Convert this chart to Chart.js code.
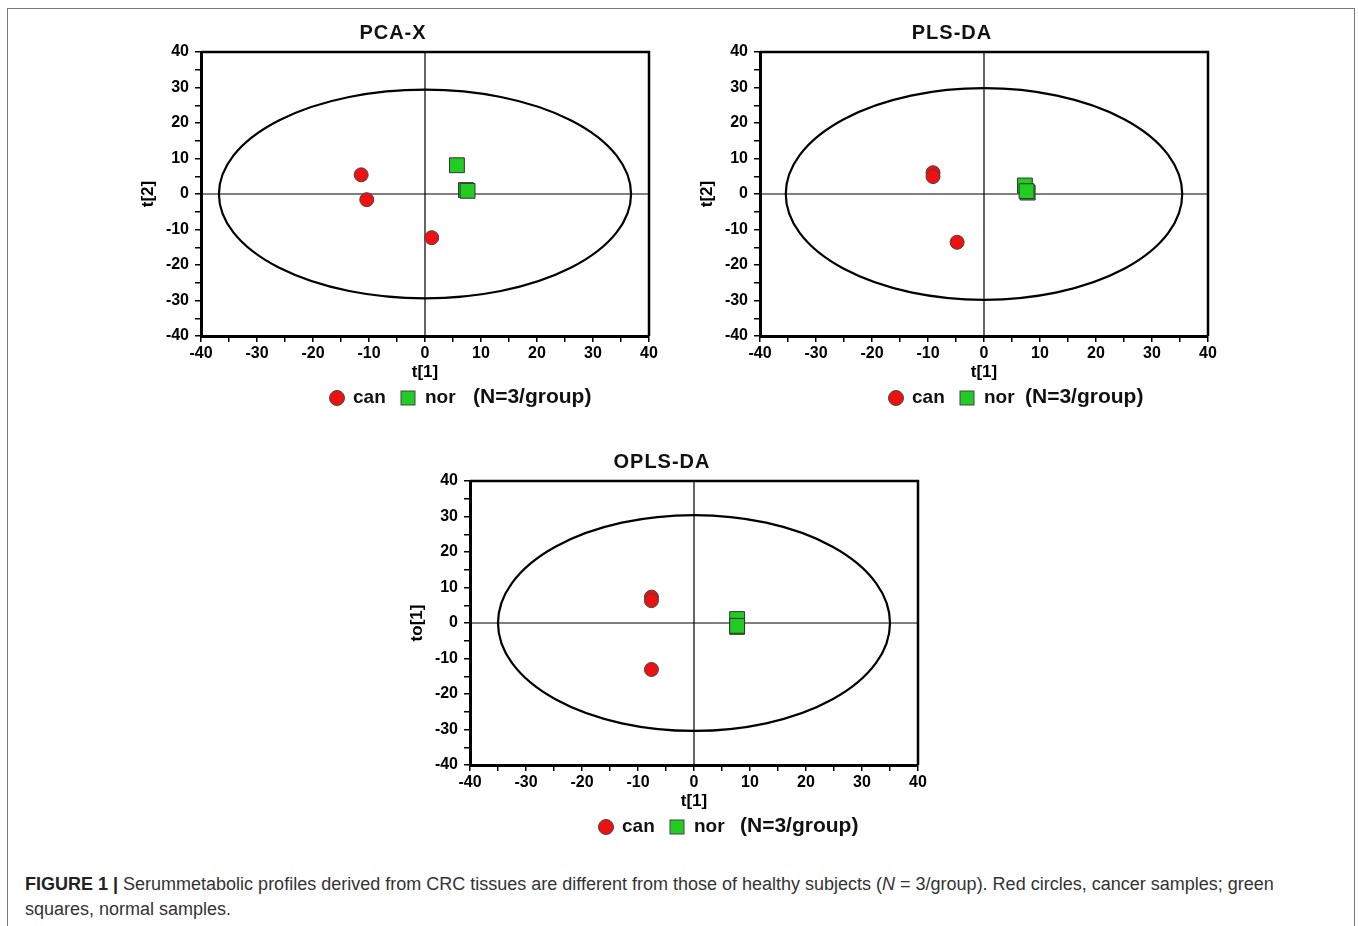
<!DOCTYPE html>
<html>
<head>
<meta charset="utf-8">
<script src="https://cdn.jsdelivr.net/npm/chart.js@4.4.1/dist/chart.umd.min.js"></script>
<style>
  html, body { margin: 0; padding: 0; background: #fff; }
  body { width: 1358px; height: 926px; position: relative; overflow: hidden; }
  #frame { position: absolute; left: 7px; top: 8px; width: 1348px; height: 940px; border: 1px solid #777; box-sizing: border-box; }
  .box { position: absolute; width: 540px; height: 400px; }
  #caption { position: absolute; left: 25px; top: 872px; width: 1290px; font-family: "Liberation Sans Narrow", "Arial Narrow", "Liberation Sans", Arial, sans-serif; font-size: 18px; line-height: 25px; color: #333; }
  #caption b { color: #222; }
</style>
</head>
<body>
<div id="frame"></div>
<div class="box" style="left:130px; top:15px;"><canvas id="pca"></canvas></div>
<div class="box" style="left:689px; top:15px;"><canvas id="pls"></canvas></div>
<div class="box" style="left:399px; top:444px;"><canvas id="opls"></canvas></div>
<div id="caption"><b>FIGURE 1 |</b> Serummetabolic profiles derived from CRC tissues are different from those of healthy subjects (<i>N</i> = 3/group). Red circles, cancer samples; green squares, normal samples.</div>

<script>
// valores
const groupLabels = ['can', 'nor'];
const groupNote = '(N=3/group)';

const pcaCanX = [-11.4, -10.4, 1.2];
const pcaCanY = [5.4, -1.6, -12.3];
const pcaNorX = [5.7, 7.3, 7.6];
const pcaNorY = [8.1, 1.1, 0.9];
const pcaEllipse = [36.8, 29.4];

const plsCanX = [-9.1, -9.1, -4.8];
const plsCanY = [6.0, 4.9, -13.6];
const plsNorX = [7.3, 7.8, 7.6];
const plsNorY = [2.4, 0.4, 0.8];
const plsEllipse = [35.4, 29.8];

const oplsCanX = [-7.6, -7.6, -7.6];
const oplsCanY = [7.3, 6.3, -13.1];
const oplsNorX = [7.7, 7.7, 7.7];
const oplsNorY = [1.1, -1.1, -0.8];
const oplsEllipse = [35.0, 30.4];

const axisMin = -40, axisMax = 40;

const FONT = '"Liberation Sans", Arial, sans-serif';

function toPoints(xs, ys) {
    return xs.map((x, i) => ({ x: x, y: ys[i] }));
}

// plugin: elipse, líneas en cero, marco, título y leyenda
const decorPlugin = {
    id: 'decor',
    beforeDatasetsDraw(chart) {
        const { ctx, chartArea: a, scales: { x, y } } = chart;
        const cfg = chart.options.plugins.decor;
        const x0 = x.getPixelForValue(0), y0 = y.getPixelForValue(0);
        ctx.save();
        ctx.strokeStyle = '#000';
        ctx.lineWidth = 1.2;
        ctx.beginPath();
        ctx.moveTo(a.left, y0); ctx.lineTo(a.right, y0);
        ctx.moveTo(x0, a.top); ctx.lineTo(x0, a.bottom);
        ctx.stroke();
        const rx = Math.abs(x.getPixelForValue(cfg.ellipse[0]) - x0);
        const ry = Math.abs(y.getPixelForValue(cfg.ellipse[1]) - y0);
        ctx.lineWidth = 2.2;
        ctx.beginPath();
        ctx.ellipse(x0, y0, rx, ry, 0, 0, Math.PI * 2);
        ctx.stroke();
        // marco superior y derecho
        ctx.lineWidth = 2.5;
        ctx.beginPath();
        ctx.moveTo(a.left, a.top); ctx.lineTo(a.right, a.top); ctx.lineTo(a.right, a.bottom);
        ctx.stroke();
        ctx.restore();
    },
    afterDraw(chart) {
        const { ctx, chartArea: a } = chart;
        const cfg = chart.options.plugins.decor;
        ctx.save();
        ctx.fillStyle = '#111';
        ctx.textBaseline = 'middle';
        ctx.textAlign = 'center';
        ctx.font = 'bold 20px ' + FONT;
        ctx.letterSpacing = '1px';
        ctx.fillText(cfg.title, a.left + 192, 18);
        ctx.letterSpacing = '0px';
        // leyenda
        const ly = a.bottom + 62;
        const lx = a.left;
        ctx.fillStyle = '#ee1111';
        ctx.strokeStyle = '#444';
        ctx.lineWidth = 1;
        ctx.beginPath();
        ctx.arc(lx + 136, ly, 7.5, 0, Math.PI * 2);
        ctx.fill(); ctx.stroke();
        ctx.fillStyle = '#22cc22';
        ctx.fillRect(lx + 200, ly - 7, 14, 14);
        ctx.strokeRect(lx + 200, ly - 7, 14, 14);
        ctx.fillStyle = '#111';
        ctx.textAlign = 'left';
        ctx.font = 'bold 19px ' + FONT;
        ctx.fillText(groupLabels[0], lx + 152, ly);
        ctx.fillText(groupLabels[1], lx + 224, ly);
        ctx.font = 'bold 21px ' + FONT;
        ctx.fillText(groupNote, lx + cfg.noteX, ly - 1);
        ctx.restore();
    }
};

function makeChart(id, title, yTitle, canX, canY, norX, norY, ellipse, noteX) {
    const tickCb = v => (v % 10 === 0 ? v : '');
    const grid = { drawOnChartArea: false, drawTicks: true, tickLength: 6, color: '#000', lineWidth: 1.5 };
    const tickFont = { family: FONT, size: 16, weight: 'bold' };
    const titleFont = { family: FONT, size: 17, weight: 'bold' };
    return new Chart(document.getElementById(id), {
        type: 'scatter',
        data: {
            datasets: [{
                label: groupLabels[0],
                data: toPoints(canX, canY),
                pointStyle: 'circle',
                pointRadius: 7,
                pointHoverRadius: 7,
                backgroundColor: '#ee1111',
                borderColor: '#444',
                borderWidth: 1
            }, {
                label: groupLabels[1],
                data: toPoints(norX, norY),
                pointStyle: 'rect',
                pointRadius: 10.5,
                pointHoverRadius: 10.5,
                backgroundColor: '#22cc22',
                borderColor: '#333',
                borderWidth: 1
            }]
        },
        options: {
            responsive: false,
            animation: false,
            layout: { padding: { left: 8, top: 37, right: 21, bottom: 32 } },
            plugins: {
                legend: { display: false },
                tooltip: { enabled: false },
                decor: { title: title, ellipse: ellipse, noteX: noteX }
            },
            scales: {
                x: {
                    type: 'linear', min: axisMin, max: axisMax,
                    afterFit: s => { s.height = 47; },
                    border: { display: true, color: '#000', width: 3 },
                    grid: grid,
                    ticks: { stepSize: 5, autoSkip: false, maxRotation: 0, padding: 2, color: '#000', font: tickFont, callback: tickCb },
                    title: { display: true, text: 't[1]', color: '#000', font: titleFont, padding: 0 }
                },
                y: {
                    type: 'linear', min: axisMin, max: axisMax,
                    afterFit: s => { s.width = 63; },
                    border: { display: true, color: '#000', width: 3 },
                    grid: grid,
                    ticks: { stepSize: 5, autoSkip: false, padding: 6, color: '#000', font: tickFont, callback: tickCb },
                    title: { display: true, text: yTitle, color: '#000', font: titleFont, padding: 0 }
                }
            }
        },
        plugins: [decorPlugin]
    });
}

function setSize(id) {
    const c = document.getElementById(id);
    c.width = 540; c.height = 400;
    c.style.width = '540px'; c.style.height = '400px';
}
['pca', 'pls', 'opls'].forEach(setSize);

makeChart('pca', 'PCA-X', 't[2]', pcaCanX, pcaCanY, pcaNorX, pcaNorY, pcaEllipse, 272);
makeChart('pls', 'PLS-DA', 't[2]', plsCanX, plsCanY, plsNorX, plsNorY, plsEllipse, 265);
makeChart('opls', 'OPLS-DA', 'to[1]', oplsCanX, oplsCanY, oplsNorX, oplsNorY, oplsEllipse, 270);
</script>
</body>
</html>
